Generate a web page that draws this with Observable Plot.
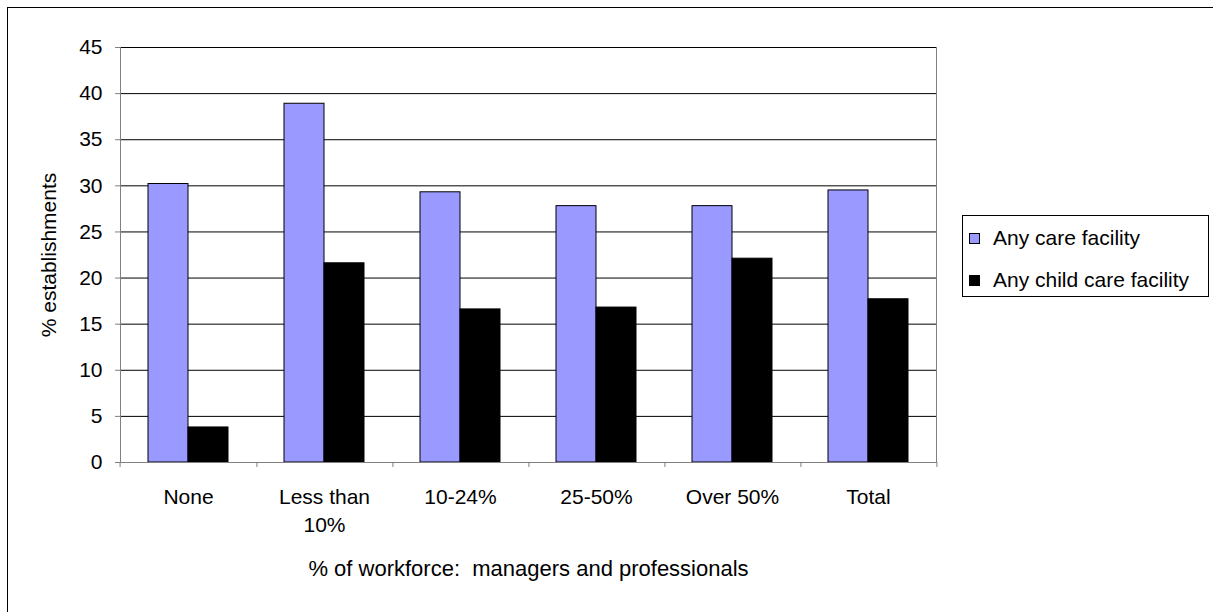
<!DOCTYPE html>
<html>
<head>
<meta charset="utf-8">
<script src="https://cdn.jsdelivr.net/npm/d3@7"></script>
<script src="https://cdn.jsdelivr.net/npm/@observablehq/plot@0.6"></script>
<style>
  html, body { margin: 0; padding: 0; background: #fff; }
  #wrap { position: relative; width: 1213px; height: 612px; overflow: hidden; background: #fff; font-family: "Liberation Sans", Arial, sans-serif; }
  #border { position: absolute; left: 7px; top: 7px; width: 1400px; height: 800px; border-left: 1px solid #000; border-top: 1px solid #000; }
  #chart { position: absolute; left: 0; top: 0; }
  #chart svg text { white-space: pre; }
  #legend { position: absolute; left: 962px; top: 215px; width: 245px; height: 80px; border: 1px solid #000; background: #fff; font-size: 21px; color: #000; }
  .row { position: absolute; left: 0; display: flex; align-items: center; height: 30px; }
  .sw { width: 9px; height: 9px; border: 1px solid #000; margin-left: 6px; margin-right: 13px; }
</style>
</head>
<body>
<div id="wrap">
  <div id="border"></div>
  <div id="chart"></div>
  <div id="legend"></div>
</div>
<script>
// ---- data ----
const categories = ["None", "Less than 10%", "10-24%", "25-50%", "Over 50%", "Total"];
const tickLabels = ["None", "Less than\n10%", "10-24%", "25-50%", "Over 50%", "Total"];
const seriesNames = ["Any care facility", "Any child care facility"];
const anyCare = [30.2, 38.9, 29.3, 27.8, 27.8, 29.5];
const anyChildCare = [3.8, 21.6, 16.6, 16.8, 22.1, 17.7];
const seriesColors = ["#9999ff", "#000000"];
const yTicks = [0, 5, 10, 15, 20, 25, 30, 35, 40, 45];
const yLabel = "% establishments";
const xLabel = "% of workforce:  managers and professionals";

const data = categories.flatMap((c, i) => [
  {category: c, series: seriesNames[0], value: anyCare[i]},
  {category: c, series: seriesNames[1], value: anyChildCare[i]}
]);

const W = 1213, H = 612, mL = 117, mR = 275, mT = 47, mB = 150;
const step = (W - mL - mR) / categories.length;
const gray = "#808080";
const labelOf = new Map(categories.map((c, i) => [c, tickLabels[i]]));

const chart = Plot.plot({
  width: W, height: H,
  marginLeft: mL, marginRight: mR, marginTop: mT, marginBottom: mB,
  style: {fontFamily: "'Liberation Sans', Arial, sans-serif", fontSize: "21px", color: "#000", background: "transparent", overflow: "visible"},
  fx: {domain: categories, padding: 0},
  x: {domain: seriesNames, paddingInner: 0, paddingOuter: 0.7, axis: null},
  y: {domain: [0, 45]},
  color: {domain: seriesNames, range: seriesColors},
  marks: [
    Plot.gridY(yTicks.filter(t => t > 0), {stroke: "#000", strokeOpacity: 1}),
    Plot.frame({anchor: "left", facetAnchor: "left", stroke: gray}),
    Plot.frame({anchor: "right", facetAnchor: "right", stroke: gray}),
    Plot.barY(data, {fx: "category", x: "series", y: "value", fill: "series", stroke: "#000", strokeWidth: 1, inset: 0}),
    Plot.ruleY([0], {stroke: gray}),
    Plot.axisY({ticks: yTicks, tickSize: 5, tickPadding: 13, stroke: gray, fill: "#000",
      label: yLabel, labelAnchor: "center", labelArrow: "none", labelOffset: 79}),
    Plot.axisFx({anchor: "bottom", tickSize: 0, tickPadding: 21, lineHeight: 1.36, fill: "#000",
      tickFormat: d => labelOf.get(d), label: null}),
    Plot.axisFx({anchor: "bottom", tickSize: 0, tickFormat: () => "", fill: "#000", fontSize: 22,
      label: xLabel, labelAnchor: "center", labelOffset: 113}),
    Plot.axisFx({anchor: "bottom", tickSize: 5, stroke: gray, tickFormat: () => "", label: null, dx: step / 2}),
    Plot.axisFx({anchor: "bottom", ticks: [categories[0]], tickSize: 5, stroke: gray, tickFormat: () => "", label: null, dx: -step / 2})
  ]
});
document.getElementById("chart").appendChild(chart);

// ---- legend ----
const legend = document.getElementById("legend");
seriesNames.forEach((name, i) => {
  const row = document.createElement("div");
  row.className = "row";
  row.style.top = (7 + i * 42) + "px";
  const sw = document.createElement("div");
  sw.className = "sw";
  sw.style.background = seriesColors[i];
  const t = document.createElement("span");
  t.textContent = name;
  row.appendChild(sw);
  row.appendChild(t);
  legend.appendChild(row);
});
</script>
</body>
</html>
